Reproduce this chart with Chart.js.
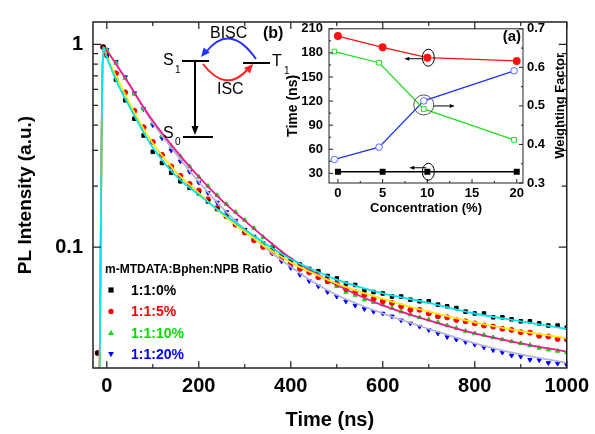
<!DOCTYPE html>
<html>
<head>
<meta charset="utf-8">
<script src="https://cdn.jsdelivr.net/npm/chart.js@4.4.1/dist/chart.umd.min.js"></script>
<style>
  html, body { margin: 0; padding: 0; background: #fff; }
  #wrap { position: relative; width: 595px; height: 434px; }
  #main { position: absolute; left: 0; top: 0; }
  #inset { position: absolute; left: 285px; top: 15px; }
</style>
</head>
<body>
<div id="wrap">
  <canvas id="main" width="595" height="434"></canvas>
  <canvas id="inset" width="300" height="205"></canvas>
</div>
<script>
// MAIN DECAY DATA (time in ns, PL normalised)

const time = [-20, -8, 0, 20, 40, 60, 80, 100, 120, 140, 160, 180, 200, 220, 240, 260, 280, 300, 320, 340,
  360, 380, 400, 420, 440, 460, 480, 500, 520, 540, 560, 580, 600, 620, 640, 660, 680, 700, 720, 740,
  760, 780, 800, 820, 840, 860, 880, 900, 920, 940, 960, 980, 1000];

const pl0 = [0.03, 0.97, 0.88, 0.67, 0.53, 0.43, 0.355, 0.295, 0.26, 0.233, 0.211, 0.196, 0.184, 0.168, 0.154, 0.142, 0.131, 0.121, 0.112, 0.104,
  0.098, 0.091, 0.086, 0.082, 0.078, 0.076, 0.072, 0.070, 0.066, 0.065, 0.061, 0.060, 0.059, 0.057, 0.057, 0.055, 0.054, 0.054, 0.052, 0.051,
  0.050, 0.048, 0.047, 0.047, 0.045, 0.045, 0.044, 0.043, 0.043, 0.042, 0.041, 0.041, 0.040];
const pl5 = [0.03, 0.97, 0.9, 0.72, 0.58, 0.47, 0.39, 0.33, 0.285, 0.25, 0.225, 0.205, 0.19, 0.172, 0.156, 0.142, 0.129, 0.118, 0.108, 0.100,
  0.094, 0.088, 0.083, 0.078, 0.075, 0.071, 0.068, 0.066, 0.062, 0.060, 0.058, 0.0555, 0.054, 0.053, 0.051, 0.049, 0.049, 0.047, 0.0455, 0.045,
  0.0437, 0.043, 0.042, 0.041, 0.0405, 0.0395, 0.039, 0.038, 0.0378, 0.0365, 0.0362, 0.0352, 0.035];
const pl10 = [0.03, 0.97, 0.94, 0.81, 0.68, 0.57, 0.48, 0.41, 0.355, 0.315, 0.28, 0.25, 0.222, 0.20, 0.18, 0.163, 0.149, 0.136, 0.124, 0.112,
  0.102, 0.094, 0.087, 0.081, 0.076, 0.071, 0.067, 0.064, 0.060, 0.058, 0.055, 0.0535, 0.052, 0.050, 0.048, 0.0465, 0.045, 0.0438, 0.0425, 0.041,
  0.0398, 0.0385, 0.0375, 0.0368, 0.0358, 0.035, 0.0342, 0.0335, 0.0328, 0.0318, 0.0312, 0.0307, 0.0302];
const pl20 = [0.03, 0.97, 0.94, 0.82, 0.69, 0.575, 0.48, 0.40, 0.345, 0.30, 0.265, 0.235, 0.208, 0.185, 0.166, 0.149, 0.135, 0.122, 0.111, 0.101,
  0.093, 0.085, 0.079, 0.073, 0.068, 0.064, 0.060, 0.057, 0.054, 0.0515, 0.0495, 0.048, 0.047, 0.0455, 0.0435, 0.042, 0.0405, 0.039, 0.0375, 0.036,
  0.035, 0.034, 0.033, 0.032, 0.031, 0.0302, 0.0292, 0.0288, 0.0278, 0.0277, 0.0268, 0.0266, 0.0262];

// fitted curves
const fitTime = [-16, -8, 0, 25, 50, 75, 100, 150, 200, 250, 300, 350, 400, 450, 500, 600, 700, 800, 900, 1000];
const fit0 = [0.02, 0.97, 0.86, 0.63, 0.49, 0.385, 0.31, 0.225, 0.181, 0.148, 0.122, 0.102, 0.087, 0.077, 0.069, 0.059, 0.053, 0.047, 0.043, 0.0395];
const fit5 = [0.02, 0.97, 0.87, 0.66, 0.51, 0.40, 0.325, 0.235, 0.185, 0.146, 0.119, 0.099, 0.084, 0.074, 0.066, 0.0555, 0.048, 0.0425, 0.0385, 0.0355];
const fit10 = [0.02, 0.97, 0.93, 0.77, 0.63, 0.51, 0.42, 0.30, 0.222, 0.17, 0.135, 0.108, 0.088, 0.075, 0.065, 0.0515, 0.0435, 0.0375, 0.0335, 0.0305];
const fit20 = [0.02, 0.97, 0.93, 0.77, 0.625, 0.505, 0.41, 0.29, 0.21, 0.157, 0.122, 0.097, 0.08, 0.067, 0.058, 0.047, 0.0395, 0.0335, 0.0295, 0.0268];

const seriesLabels = ["1:1:0%", "1:1:5%", "1:1:10%", "1:1:20%"];
const legendTitle = "m-MTDATA:Bphen:NPB Ratio";
const xTicks = [0, 200, 400, 600, 800, 1000];
const yTicks = [0.1, 1];

// INSET (a) DATA

const conc = [0, 5, 10, 20];
const concW = [-0.4, 4.6, 9.6, 19.7];
const tauPrompt = [32, 32, 32, 32];
const tauDelayed = [201, 187, 174, 170];
const weightA = [0.641, 0.612, 0.492, 0.412];
const weightB = [0.361, 0.393, 0.513, 0.591];
const tauTicks = [30, 60, 90, 120, 150, 180, 210];
const weightTicks = [0.3, 0.4, 0.5, 0.6, 0.7];
const concTicks = [0, 5, 10, 15, 20];

const FONT = '"Liberation Sans", Arial, sans-serif';
Chart.defaults.font.family = FONT;
Chart.defaults.color = "#000";

function pts(xs, ys) {
  return xs.map((x, i) => ({ x: x, y: ys[i] }));
}

function marker(ctx, style, x, y, r, fill, stroke) {
  ctx.beginPath();
  if (style === "rect") {
    ctx.rect(x - r, y - r, 2 * r, 2 * r);
  } else if (style === "circle") {
    ctx.arc(x, y, r, 0, Math.PI * 2);
  } else if (style === "up") {
    ctx.moveTo(x, y - r * 1.2);
    ctx.lineTo(x + r * 1.1, y + r * 0.8);
    ctx.lineTo(x - r * 1.1, y + r * 0.8);
    ctx.closePath();
  } else {
    ctx.moveTo(x, y + r * 1.2);
    ctx.lineTo(x + r * 1.1, y - r * 0.8);
    ctx.lineTo(x - r * 1.1, y - r * 0.8);
    ctx.closePath();
  }
  ctx.fillStyle = fill;
  ctx.fill();
  if (stroke) {
    ctx.strokeStyle = stroke;
    ctx.lineWidth = 1;
    ctx.stroke();
  }
}

function arrowHead(ctx, x, y, ang, len, wid) {
  ctx.beginPath();
  ctx.moveTo(x, y);
  ctx.lineTo(x - len * Math.cos(ang) + wid * Math.sin(ang), y - len * Math.sin(ang) - wid * Math.cos(ang));
  ctx.lineTo(x - len * Math.cos(ang) - wid * Math.sin(ang), y - len * Math.sin(ang) + wid * Math.cos(ang));
  ctx.closePath();
  ctx.fill();
}

// MAIN CHART

const markerStyle = [
  { color: "#000000", style: "rect", rot: 0 },
  { color: "#ff0000", style: "circle", rot: 0 },
  { color: "#00dd00", style: "triangle", rot: 0 },
  { color: "#0000ff", style: "triangle", rot: 180 },
];
const legendShape = ["rect", "circle", "up", "down"];
const fitColors = ["#00e5ee", "#ffea00", "#ee1a8c", "#b4b4dc"];
const plSets = [pl0, pl5, pl10, pl20];
const fitSets = [fit0, fit5, fit10, fit20];

const datasets = [];
fitSets.forEach((f, i) => {
  datasets.push({
    data: pts(fitTime, f),
    showLine: true,
    borderColor: fitColors[i],
    borderWidth: 1.8,
    pointRadius: 0,
    cubicInterpolationMode: "monotone",
    order: 0,
  });
});
plSets.forEach((p, i) => {
  datasets.push({
    label: seriesLabels[i],
    data: pts(time, p),
    showLine: false,
    pointStyle: markerStyle[i].style,
    pointRotation: markerStyle[i].rot,
    pointRadius: 2.5,
    pointBackgroundColor: markerStyle[i].color,
    pointBorderColor: markerStyle[i].color,
    pointBorderWidth: 1,
    order: 1,
  });
});

const mainDecor = {
  id: "mainDecor",
  afterDatasetsDraw(chart) {
    const { ctx, chartArea: a, scales } = chart;
    const x = scales.x, y = scales.y;
    ctx.save();
    ctx.strokeStyle = "#222";
    ctx.lineWidth = 1.5;
    ctx.strokeRect(a.left, a.top, a.right - a.left, a.bottom - a.top);
    ctx.lineWidth = 1.2;
    ctx.beginPath();
    for (let v = 0; v <= 1000; v += 100) {
      const px = x.getPixelForValue(v);
      const len = v % 200 === 0 ? 7 : 4;
      ctx.moveTo(px, a.bottom); ctx.lineTo(px, a.bottom - len);
      ctx.moveTo(px, a.top); ctx.lineTo(px, a.top + len);
    }
    [0.01, 0.1].forEach((d) => {
      for (let k = 1; k <= 9; k++) {
        const v = d * k * 10;
        if (v < y.min || v > y.max) continue;
        const py = y.getPixelForValue(v);
        const len = k === 1 ? 8 : 5;
        ctx.moveTo(a.left, py); ctx.lineTo(a.left + len, py);
        ctx.moveTo(a.right, py); ctx.lineTo(a.right - len, py);
      }
    });
    ctx.stroke();
    ctx.restore();
  },
  afterDraw(chart) {
    const ctx = chart.ctx;
    ctx.save();
    // legend
    ctx.textBaseline = "middle";
    ctx.fillStyle = "#000";
    ctx.font = "bold 12px " + FONT;
    ctx.fillText(legendTitle, 105, 270);
    ctx.font = "bold 14px " + FONT;
    seriesLabels.forEach((lab, i) => {
      const yy = 290 + i * 21.4;
      marker(ctx, legendShape[i], 111, yy, 2.6, markerStyle[i].color);
      ctx.fillStyle = markerStyle[i].color;
      ctx.fillText(lab, 131, yy + 1);
    });

    // energy level diagram (b)
    ctx.strokeStyle = "#000";
    ctx.fillStyle = "#000";
    ctx.lineWidth = 2;
    ctx.beginPath();
    ctx.moveTo(182, 61); ctx.lineTo(209, 61);
    ctx.moveTo(243, 63); ctx.lineTo(270, 63);
    ctx.moveTo(183, 137); ctx.lineTo(213, 137);
    ctx.moveTo(195, 61); ctx.lineTo(195, 128);
    ctx.stroke();
    arrowHead(ctx, 195, 135, Math.PI / 2, 9, 3.5);
    ctx.font = "16px " + FONT;
    ctx.textBaseline = "middle";
    ctx.fillText("S", 163, 61);
    ctx.fillText("T", 272, 62);
    ctx.fillText("S", 163, 134);
    ctx.fillText("BISC", 210, 34);
    ctx.fillText("ISC", 217, 90);
    ctx.font = "10px " + FONT;
    ctx.fillText("1", 175, 70);
    ctx.fillText("1", 284, 71);
    ctx.fillText("0", 175, 142);
    ctx.font = "bold 16px " + FONT;
    ctx.fillText("(b)", 263, 34);
    // BISC arc
    ctx.strokeStyle = "#2233ff";
    ctx.fillStyle = "#2233ff";
    ctx.beginPath();
    ctx.moveTo(256, 59);
    ctx.quadraticCurveTo(230, 22, 206, 52);
    ctx.stroke();
    arrowHead(ctx, 201, 57, Math.atan2(57 - 22, 201 - 230), 9, 4);
    // ISC arc
    ctx.strokeStyle = "#ff2020";
    ctx.fillStyle = "#ff2020";
    ctx.beginPath();
    ctx.moveTo(203, 64);
    ctx.quadraticCurveTo(226, 94, 248, 69);
    ctx.stroke();
    arrowHead(ctx, 253, 64, Math.atan2(64 - 92, 253 - 228), 9, 4);
    ctx.restore();
  },
};

new Chart(document.getElementById("main"), {
  type: "scatter",
  data: { datasets: datasets },
  options: {
    responsive: false,
    animation: false,
    layout: { padding: { top: 13, right: 25, left: 0, bottom: 0 } },
    plugins: { legend: { display: false }, tooltip: { enabled: false } },
    scales: {
      x: {
        type: "linear",
        min: -30,
        max: 1000,
        afterBuildTicks: (s) => { s.ticks = xTicks.map((v) => ({ value: v })); },
        afterFit: (s) => { s.height = 66; },
        grid: { display: false, drawTicks: false },
        border: { display: false },
        ticks: { font: { size: 20, weight: "bold" }, padding: 6, maxRotation: 0, callback: (v) => String(v) },
        title: { display: true, text: "Time (ns)", font: { size: 20, weight: "bold" }, padding: { bottom: 2 } },
      },
      y: {
        type: "logarithmic",
        min: 0.0253,
        max: 1.29,
        afterBuildTicks: (s) => { s.ticks = yTicks.map((v) => ({ value: v })); },
        afterFit: (s) => { s.width = 93; },
        grid: { display: false, drawTicks: false },
        border: { display: false },
        ticks: { font: { size: 20, weight: "bold" }, padding: 10, callback: (v) => String(v) },
        title: { display: true, text: "PL Intensity (a.u.)", font: { size: 19, weight: "bold" }, padding: { top: 14 } },
      },
    },
  },
  plugins: [mainDecor],
});

// INSET (a)

const insetDecor = {
  id: "insetDecor",
  afterDatasetsDraw(chart) {
    const { ctx, chartArea: a, scales } = chart;
    const x = scales.x, y = scales.y, y1 = scales.y1;
    ctx.save();
    ctx.strokeStyle = "#222";
    ctx.lineWidth = 1;
    ctx.strokeRect(a.left, a.top, a.right - a.left, a.bottom - a.top);
    ctx.beginPath();
    for (let v = 0; v <= 20; v += 2.5) {
      const px = x.getPixelForValue(v);
      const len = v % 5 === 0 ? 4 : 2;
      ctx.moveTo(px, a.bottom); ctx.lineTo(px, a.bottom - len);
    }
    for (let v = 30; v <= 210; v += 15) {
      const py = y.getPixelForValue(v);
      const len = v % 30 === 0 ? 4 : 2;
      ctx.moveTo(a.left, py); ctx.lineTo(a.left + len, py);
    }
    for (let v = 0.3; v <= 0.701; v += 0.05) {
      const py = y1.getPixelForValue(v);
      const len = Math.round(v * 100) % 10 === 0 ? 4 : 2;
      ctx.moveTo(a.right, py); ctx.lineTo(a.right - len, py);
    }
    ctx.stroke();

    // circled markers and arrows
    ctx.strokeStyle = "#000";
    ctx.fillStyle = "#000";
    ctx.lineWidth = 1;
    const rx = x.getPixelForValue(conc[2]) + 1, ry = y.getPixelForValue(tauDelayed[2]);
    ctx.beginPath(); ctx.ellipse(rx, ry, 6, 8.5, 0, 0, Math.PI * 2); ctx.stroke();
    ctx.beginPath(); ctx.moveTo(rx - 6, ry + 1); ctx.lineTo(rx - 20, ry + 1); ctx.stroke();
    arrowHead(ctx, rx - 24, ry + 1, Math.PI, 5, 2);
    const bx = rx, by = y.getPixelForValue(tauPrompt[2]);
    ctx.beginPath(); ctx.ellipse(bx, by, 6, 8.5, 0, 0, Math.PI * 2); ctx.stroke();
    ctx.beginPath(); ctx.moveTo(bx - 2, by - 4); ctx.lineTo(bx - 15, by - 4); ctx.stroke();
    arrowHead(ctx, bx - 19, by - 4, Math.PI, 5, 2);
    const cx = x.getPixelForValue(concW[2]), cy = (y1.getPixelForValue(weightA[2]) + y1.getPixelForValue(weightB[2])) / 2;
    ctx.strokeStyle = "#555";
    ctx.beginPath(); ctx.arc(cx, cy, 10, 0, Math.PI * 2); ctx.stroke();
    ctx.strokeStyle = "#000";
    ctx.beginPath(); ctx.moveTo(cx + 10, cy + 1); ctx.lineTo(cx + 27, cy + 1); ctx.stroke();
    arrowHead(ctx, cx + 31, cy + 1, 0, 5, 2);

    ctx.font = "bold 15px " + FONT;
    ctx.textAlign = "right";
    ctx.textBaseline = "middle";
    ctx.fillText("(a)", a.right - 2, a.top + 8);

    ctx.translate(275, (a.top + a.bottom) / 2);
    ctx.rotate(-Math.PI / 2);
    ctx.textAlign = "center";
    ctx.font = "bold 13px " + FONT;
    ctx.fillText("Weighting Factor", 0, 0);
    ctx.restore();
  },
};

new Chart(document.getElementById("inset"), {
  type: "scatter",
  data: {
    datasets: [
      {
        data: pts(conc, tauDelayed), yAxisID: "y", showLine: true,
        borderColor: "#ff1010", borderWidth: 1.3, pointStyle: "circle", pointRadius: 3.3,
        pointBackgroundColor: "#ff1010", pointBorderColor: "#ff1010",
      },
      {
        data: pts(conc, tauPrompt), yAxisID: "y", showLine: true,
        borderColor: "#000", borderWidth: 1.3, pointStyle: "rect", pointRadius: 3.3,
        pointBackgroundColor: "#000", pointBorderColor: "#000",
      },
      {
        data: pts(concW, weightA), yAxisID: "y1", showLine: true,
        borderColor: "#22dd22", borderWidth: 1.3, pointStyle: "rect", pointRadius: 3.3,
        pointBackgroundColor: "#fff", pointBorderColor: "#22dd22", pointBorderWidth: 1,
      },
      {
        data: pts(concW, weightB), yAxisID: "y1", showLine: true,
        borderColor: "#2233ee", borderWidth: 1.3, pointStyle: "circle", pointRadius: 3.3,
        pointBackgroundColor: "#fff", pointBorderColor: "#5566ff", pointBorderWidth: 1,
      },
    ],
  },
  options: {
    responsive: false,
    animation: false,
    layout: { padding: { top: 11, left: 0, right: 0, bottom: 0 } },
    plugins: { legend: { display: false }, tooltip: { enabled: false } },
    scales: {
      x: {
        type: "linear", min: -1, max: 20.7,
        afterBuildTicks: (s) => { s.ticks = concTicks.map((v) => ({ value: v })); },
        afterFit: (s) => { s.height = 37; },
        grid: { display: false, drawTicks: false },
        border: { display: false },
        ticks: { font: { size: 13, weight: "bold" }, padding: 3, maxRotation: 0 },
        title: { display: true, text: "Concentration (%)", font: { size: 13, weight: "bold" }, padding: { bottom: 4 } },
      },
      y: {
        type: "linear", position: "left", min: 18, max: 210,
        afterBuildTicks: (s) => { s.ticks = tauTicks.map((v) => ({ value: v })); },
        afterFit: (s) => { s.width = 44; },
        grid: { display: false, drawTicks: false },
        border: { display: false },
        ticks: { font: { size: 13, weight: "bold" }, padding: 6 },
        title: { display: true, text: "Time (ns)", font: { size: 14, weight: "bold" }, padding: { top: 0 } },
      },
      y1: {
        type: "linear", position: "right", min: 0.3, max: 0.7,
        afterBuildTicks: (s) => { s.ticks = weightTicks.map((v) => ({ value: v })); },
        afterFit: (s) => { s.width = 62; },
        grid: { display: false, drawTicks: false },
        border: { display: false },
        ticks: { font: { size: 13, weight: "bold" }, padding: 4, callback: (v) => v.toFixed(1) },
      },
    },
  },
  plugins: [insetDecor],
});
</script>
</body>
</html>
